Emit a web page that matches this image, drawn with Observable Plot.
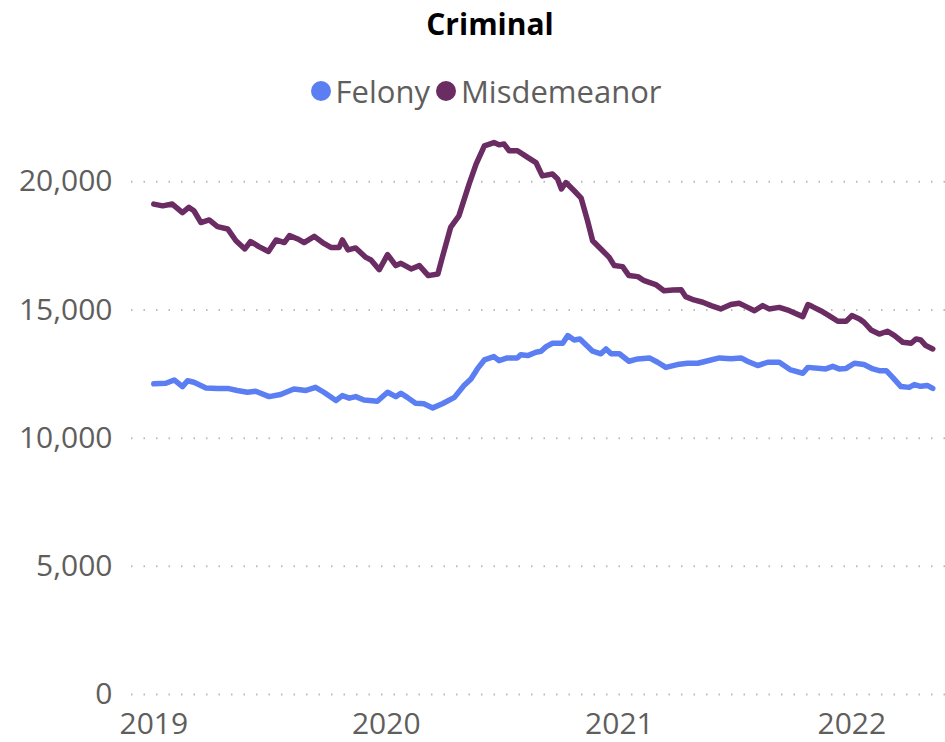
<!DOCTYPE html>
<html>
<head>
<meta charset="utf-8">
<script src="https://cdn.jsdelivr.net/npm/d3@7"></script>
<script src="https://cdn.jsdelivr.net/npm/@observablehq/plot@0.6"></script>
<style>
  html, body { margin: 0; padding: 0; background: #fff; }
  #wrap { position: relative; width: 945px; height: 742px; overflow: hidden; font-family: "Segoe UI", "Open Sans", sans-serif; }
  #title { position: absolute; top: 3px; left: 0; width: 980px; text-align: center; font-weight: 700; font-size: 30px; color: #000; }
  #legend { position: absolute; top: 70px; left: 0; width: 972px; display: flex; justify-content: center; align-items: center; font-size: 31px; color: #605E5C; }
  .item { display: flex; align-items: center; margin: 0 3px; }
  .dot { width: 20px; height: 20px; border-radius: 50%; margin-right: 5px; }
  #chart { position: absolute; top: 110px; left: 0; }
</style>
</head>
<body>
<div id="wrap">
  <div id="title">Criminal</div>
  <div id="legend"></div>
  <div id="chart"></div>
</div>
<script>
const seriesNames = ["Felony", "Misdemeanor"];
const seriesColors = ["#5B7FF3", "#6B2C63"];
const yTicks = [0, 5000, 10000, 15000, 20000];
const xTickYears = ["2019-01-01", "2020-01-01", "2021-01-01", "2022-01-01"];

const felonyDates = ["2019-01-01","2019-01-20","2019-02-02","2019-02-15","2019-02-23","2019-03-05","2019-03-24","2019-04-11","2019-04-27","2019-05-12","2019-05-28","2019-06-10","2019-07-01","2019-07-19","2019-08-09","2019-08-28","2019-09-12","2019-09-25","2019-10-14","2019-10-24","2019-11-04","2019-11-14","2019-11-27","2019-12-18","2020-01-03","2020-01-16","2020-01-24","2020-02-03","2020-02-16","2020-02-29","2020-03-14","2020-03-29","2020-04-17","2020-05-02","2020-05-13","2020-05-23","2020-06-03","2020-06-18","2020-06-26","2020-07-09","2020-07-25","2020-07-30","2020-08-10","2020-08-23","2020-08-31","2020-09-08","2020-09-18","2020-10-04","2020-10-12","2020-10-22","2020-10-31","2020-11-09","2020-11-20","2020-12-03","2020-12-11","2020-12-19","2021-01-01","2021-01-16","2021-01-30","2021-02-17","2021-03-02","2021-03-15","2021-04-02","2021-04-18","2021-05-04","2021-05-20","2021-06-07","2021-06-25","2021-07-11","2021-07-21","2021-08-06","2021-08-22","2021-09-09","2021-09-27","2021-10-16","2021-10-24","2021-11-13","2021-11-21","2021-12-02","2021-12-12","2021-12-23","2022-01-05","2022-01-20","2022-02-03","2022-02-13","2022-02-24","2022-03-06","2022-03-19","2022-04-01","2022-04-09","2022-04-19","2022-04-30","2022-05-08"];
const felonyValues = [12120,12140,12270,12010,12240,12180,11960,11940,11940,11860,11790,11830,11620,11700,11920,11860,11980,11790,11470,11660,11560,11620,11490,11440,11790,11620,11750,11590,11360,11340,11180,11340,11590,12050,12310,12700,13050,13180,13020,13130,13130,13250,13220,13350,13390,13570,13700,13700,14000,13830,13870,13650,13390,13290,13480,13290,13290,13000,13090,13130,12960,12760,12870,12920,12920,13020,13130,13100,13130,13000,12830,12960,12960,12660,12530,12760,12720,12700,12800,12700,12720,12920,12870,12700,12630,12630,12370,12010,11980,12090,12020,12050,11940];

const misdemeanorDates = ["2019-01-01","2019-01-15","2019-01-30","2019-02-15","2019-02-25","2019-03-05","2019-03-16","2019-03-29","2019-04-11","2019-04-27","2019-05-10","2019-05-24","2019-06-02","2019-06-15","2019-06-30","2019-07-12","2019-07-25","2019-08-02","2019-08-15","2019-08-25","2019-09-10","2019-09-23","2019-10-06","2019-10-19","2019-10-24","2019-11-02","2019-11-14","2019-11-30","2019-12-08","2019-12-21","2020-01-03","2020-01-16","2020-01-24","2020-02-09","2020-02-22","2020-03-07","2020-03-22","2020-03-29","2020-04-11","2020-04-24","2020-05-10","2020-05-21","2020-06-03","2020-06-18","2020-06-26","2020-07-04","2020-07-12","2020-07-25","2020-08-10","2020-08-23","2020-09-02","2020-09-18","2020-09-26","2020-10-02","2020-10-09","2020-10-22","2020-11-02","2020-11-12","2020-11-20","2020-12-03","2020-12-16","2020-12-24","2021-01-06","2021-01-16","2021-01-30","2021-02-09","2021-02-27","2021-03-12","2021-03-26","2021-04-08","2021-04-15","2021-04-28","2021-05-12","2021-05-25","2021-06-09","2021-06-25","2021-07-08","2021-07-19","2021-08-01","2021-08-14","2021-08-24","2021-09-09","2021-09-25","2021-10-16","2021-10-24","2021-10-31","2021-11-13","2021-11-26","2021-12-10","2021-12-23","2022-01-01","2022-01-13","2022-01-20","2022-01-31","2022-02-13","2022-02-26","2022-03-09","2022-03-22","2022-04-04","2022-04-12","2022-04-19","2022-04-27","2022-05-08"];
const misdemeanorValues = [19130,19060,19130,18800,19000,18870,18410,18510,18250,18160,17700,17380,17670,17470,17280,17730,17630,17900,17770,17630,17870,17630,17440,17440,17730,17340,17420,17050,16950,16570,17160,16730,16820,16600,16730,16340,16400,17050,18220,18670,19910,20690,21400,21530,21440,21470,21210,21210,20950,20750,20230,20300,20110,19720,19970,19650,19360,18480,17700,17380,17050,16730,16690,16340,16300,16140,15990,15750,15780,15790,15520,15390,15300,15170,15040,15210,15260,15130,14970,15170,15040,15100,14970,14740,15210,15130,14970,14780,14560,14560,14780,14650,14520,14220,14060,14170,14000,13740,13700,13870,13830,13610,13480];

const parse = d3.utcParse("%Y-%m-%d");
const rows = [
  ...felonyDates.map((d, i) => ({series: "Felony", date: parse(d), value: felonyValues[i]})),
  ...misdemeanorDates.map((d, i) => ({series: "Misdemeanor", date: parse(d), value: misdemeanorValues[i]}))
];

// legend
const legend = document.getElementById("legend");
seriesNames.forEach((n, i) => {
  const it = document.createElement("div");
  it.className = "item";
  it.innerHTML = `<span class="dot" style="background:${seriesColors[i]}"></span><span>${n}</span>`;
  legend.appendChild(it);
});

const chart = Plot.plot({
  width: 945,
  height: 632,
  marginLeft: 131,
  marginRight: 0,
  marginTop: 20,
  marginBottom: 48,
  style: { fontFamily: "'Segoe UI', 'Open Sans', sans-serif", fontSize: "30px", color: "#605E5C", background: "#fff" },
  x: { type: "utc", domain: [parse("2018-11-27"), parse("2022-05-28")] },
  y: { domain: [0, 22000] },
  color: { domain: seriesNames, range: seriesColors },
  marks: [
    Plot.gridY(yTicks, { stroke: "#bcbcbc", strokeOpacity: 1, strokeWidth: 2, strokeDasharray: "1.5,11" }),
    Plot.axisY({ ticks: yTicks, tickSize: 0, tickPadding: 19, tickFormat: d3.format(","), label: null, fontSize: 30 }),
    Plot.axisX({ ticks: xTickYears.map(parse), tickSize: 0, tickPadding: 18, tickFormat: d3.utcFormat("%Y"), label: null, fontSize: 30 }),
    Plot.line(rows, { x: "date", y: "value", z: "series", stroke: "series", strokeWidth: 5.5, curve: "linear", strokeLinejoin: "round", strokeLinecap: "round" })
  ]
});
document.getElementById("chart").appendChild(chart);
</script>
</body>
</html>
